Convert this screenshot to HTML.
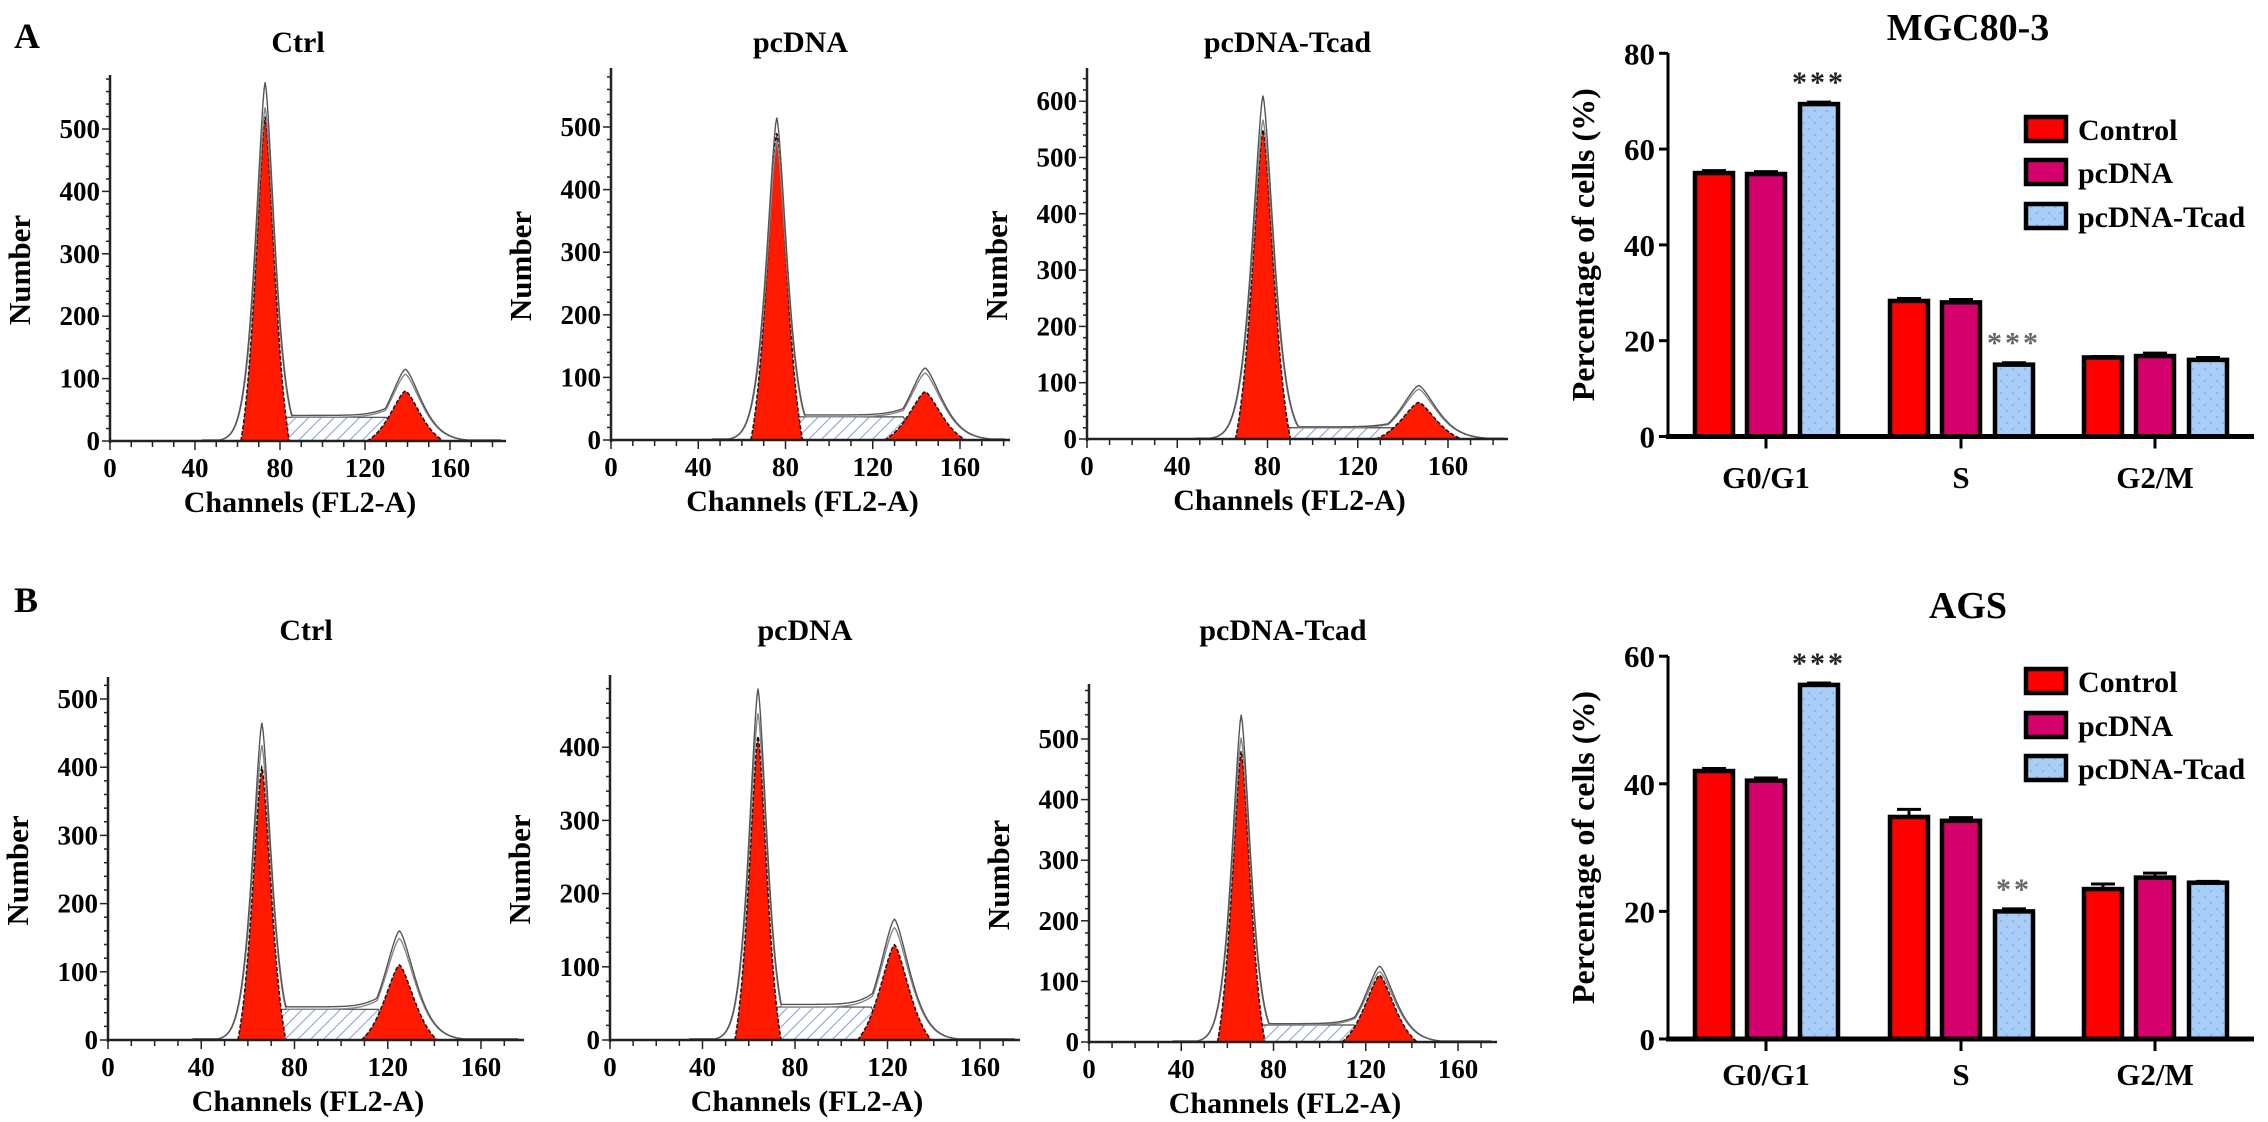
<!DOCTYPE html>
<html><head><meta charset="utf-8"><style>
html,body{margin:0;padding:0;background:#fff;}
svg{display:block;font-family:"Liberation Serif",serif;font-weight:bold;}
</style></head><body>
<svg id="fig" width="2268" height="1122" viewBox="0 0 2268 1122" xmlns="http://www.w3.org/2000/svg">
<defs>
<pattern id="hatch" patternUnits="userSpaceOnUse" width="9" height="9" patternTransform="rotate(45)">
<rect width="9" height="9" fill="#fff"/><line x1="0" y1="0" x2="0" y2="9" stroke="#7f9fd8" stroke-width="2"/></pattern>
<pattern id="dots" patternUnits="userSpaceOnUse" width="12" height="12">
<rect width="12" height="12" fill="#a8cdf7"/><circle cx="3" cy="3" r="1.3" fill="#8fb6ec"/><circle cx="9" cy="9" r="1.3" fill="#8fb6ec"/></pattern>
</defs>
<text x="14" y="48" font-size="36">A</text>
<text x="14" y="612" font-size="36">B</text>
<g id="hists"></g>
<g id="bars"></g>
</svg>
<script>
// ---- Histogram data (channel / counts) ----
const histTitles = ["Ctrl","pcDNA","pcDNA-Tcad","Ctrl","pcDNA","pcDNA-Tcad"];
const histG1Ch   = [73, 76, 78, 66, 64, 66];
const histG1Red  = [520, 490, 550, 400, 415, 480];
const histG1Out  = [575, 515, 610, 465, 480, 540];
const histSLevel = [38, 37, 20, 45, 45, 28];
const histSStart = [80, 84, 86, 73, 71, 73];
const histSEnd   = [130, 134, 136, 116, 113, 115];
const histG2Ch   = [139, 144, 147, 125, 123, 126];
const histG2Red  = [80, 77, 65, 110, 130, 110];
const histG2Out  = [115, 115, 95, 160, 165, 125];
const histYMax   = [500, 500, 600, 500, 400, 500];
const histXTicks = [0, 40, 80, 120, 160];
// layout (pixels)
const histLayout = [
 {x0:110,x160:450,base:441,k:0.624,top:75,end:506,ty:52},
 {x0:611,x160:960,base:440,k:0.626,top:68,end:1010,ty:52},
 {x0:1087,x160:1448,base:439,k:0.563,top:68,end:1508,ty:52},
 {x0:108,x160:481,base:1040,k:0.682,top:677,end:524,ty:640},
 {x0:610,x160:980,base:1040,k:0.732,top:675,end:1020,ty:640},
 {x0:1089,x160:1458,base:1042,k:0.606,top:684,end:1497,ty:640}
];
// ---- Bar chart data ----
const barCats = ["G0/G1","S","G2/M"];
const barSeries = ["Control","pcDNA","pcDNA-Tcad"];
const barTitles = ["MGC80-3","AGS"];
const barValsA = [[55,54.8,69.4],[28.3,28,15],[16.5,16.8,16]];
const barErrA  = [[0.5,0.5,0.4],[0.5,0.6,0.4],[0.2,0.6,0.5]];
const barValsB = [[42,40.5,55.5],[34.8,34.2,20],[23.5,25.3,24.5]];
const barErrB  = [[0.4,0.4,0.3],[1.2,0.5,0.4],[0.8,0.7,0.2]];
const barStarsA = [["","","***"],["","","***"],["","",""]];
const barStarsB = [["","","***"],["","","**"],["","",""]];
const barYTicksA = [0,20,40,60,80];
const barYTicksB = [0,20,40,60];

const NS="http://www.w3.org/2000/svg";
function mk(tag,attrs,parent,txt){const e=document.createElementNS(NS,tag);for(const k in attrs)e.setAttribute(k,attrs[k]);if(txt!==undefined)e.textContent=txt;parent.appendChild(e);return e;}
const peak=(x,m,s,h)=>h*Math.exp(-0.5*Math.pow(Math.abs(x-m)/s,1.5));

const hg=document.getElementById('hists');
histLayout.forEach((L,i)=>{
  const g=mk('g',{},hg);
  
  
  const xs=c=>L.x0+(L.x160-L.x0)*c/160;
  const ys=v=>L.base-v*L.k;
  const s1=histG1Ch[i]*0.06, s2=histG2Ch[i]*0.05;
  // S phase hatched region
  let d=`M${xs(histSStart[i]-6)},${ys(0)}`;
  for(let c=histSStart[i]-6;c<=histSEnd[i]+6;c+=0.5){
    let v=histSLevel[i];
    if(c<histSStart[i]) v=histSLevel[i]*(c-histSStart[i]+6)/6;
    if(c>histSEnd[i]) v=histSLevel[i]*(histSEnd[i]+6-c)/6;
    d+=` L${xs(c)},${ys(v)}`;
  }
  d+=` L${xs(histSEnd[i]+6)},${ys(0)}Z`;
  const sp=mk('path',{d:d,fill:'url(#hatch)',stroke:'#444','stroke-width':1.2},g);
  
  
  // G1 & G2 red peaks
  [[histG1Ch[i],s1,histG1Red[i],'g1-peak'],[histG2Ch[i],s2,histG2Red[i],'g2-peak']].forEach(p=>{
    const w=2.6*p[1];
    const et=peak(p[0]+w,p[0],p[1],1);
    let pd=`M${xs(p[0]-w)},${ys(0)}`;
    for(let c=p[0]-w;c<=p[0]+w;c+=0.25){
      const v=p[2]*Math.max(0,peak(c,p[0],p[1],1)-et)/(1-et);
      pd+=` L${xs(c)},${ys(v)}`;
    }
    pd+=` L${xs(p[0]+w)},${ys(0)}Z`;
    const e=mk('path',{d:pd,fill:'#ff1a00',stroke:'#111','stroke-width':1.5,'stroke-dasharray':'4 2'},g);
    
    
  });
  // outline envelopes
  [0,1].forEach(j=>{
    let od='';
    for(let c=0;c<=(L.end-L.x0)/(L.x160-L.x0)*160-2;c+=0.5){
      const f=j?1:0.93;
      let v=peak(c,histG1Ch[i],s1*0.95,histG1Out[i]*f)+peak(c,histG2Ch[i],s2,histG2Out[i]*f);
      let sv=0;
      if(c>histG1Ch[i]&&c<histG2Ch[i]) sv=histSLevel[i]*(1+j*0.08);
      v=Math.max(v,sv+peak(c,histG2Ch[i],s2,histG2Red[i])*0.3);
      if(c>histG2Ch[i]+2*s2&&c<histG2Ch[i]+30) v=Math.max(v,6*(histG2Ch[i]+30-c)/30);
      if(v<1.5&&c>histG1Ch[i]-30) v=Math.max(v,1.5);
      od+=(od?' L':'M')+xs(c)+','+ys(v);
    }
    const e=mk('path',{d:od,fill:'none',stroke:j?'#555':'#888','stroke-width':1.4},g);
    
    
  });
  // axes
  mk('line',{x1:L.x0,y1:L.top,x2:L.x0,y2:L.base+2,stroke:'#222','stroke-width':2.5},g);
  mk('line',{x1:L.x0,y1:L.base,x2:L.end,y2:L.base,stroke:'#222','stroke-width':2.5},g);
  const maxUnit=(L.base-L.top)/L.k;
  for(let v=0;v<=maxUnit;v+=20){
    const maj=v%100===0;
    mk('line',{x1:L.x0-(maj?8:4),y1:ys(v),x2:L.x0,y2:ys(v),stroke:'#222','stroke-width':1.5},g);
    if(maj&&v<=histYMax[i]){
      const t=mk('text',{x:L.x0-10,y:ys(v)+9,'font-size':27,'text-anchor':'end'},g,String(v));
      
      
    }
  }
  for(let c=0;xs(c)<=L.end;c+=10) mk('line',{x1:xs(c),y1:L.base,x2:xs(c),y2:L.base+(c%40===0?9:6),stroke:'#222','stroke-width':1.5},g);
  histXTicks.forEach(c=>{
    const t=mk('text',{x:xs(c),y:L.base+36,'font-size':27,'text-anchor':'middle'},g,String(c));
    
    
  });
  const cx=(L.x0+L.end)/2;
  const xl=mk('text',{x:cx-8,y:L.base+71,'font-size':30,'text-anchor':'middle'},g,'Channels (FL2-A)');
  
  
  const yl=mk('text',{x:0,y:0,'font-size':31,'text-anchor':'middle',transform:`translate(${L.x0-80},${(L.top+L.base)/2+12}) rotate(-90)`},g,'Number');
  
  
  const tt=mk('text',{x:cx-10,y:L.ty,'font-size':30,'text-anchor':'middle'},g,histTitles[i]);
  
  
});

// ---- Bar charts ----
const bg=document.getElementById('bars');
const barLayouts=[{ax:1668,base:436.5,k:4.79,top:53,ticks:barYTicksA,vals:barValsA,errs:barErrA,stars:barStarsA,ty:40,catY:488,legY:[129,172,216]},
                  {ax:1668,base:1039,k:6.38,top:656,ticks:barYTicksB,vals:barValsB,errs:barErrB,stars:barStarsB,ty:618,catY:1085,legY:[681,725,768]}];
const groupX=[1766,1961,2155], offX=[-52,0,53], bw=38;
const fills=['#ff0000','#d4006c','url(#dots)'];
barLayouts.forEach((B,bi)=>{
  const g=mk('g',{},bg);
  
  
  const ys=v=>B.base-v*B.k;
  barCats.forEach((cat,ci)=>{
    barSeries.forEach((s,si)=>{
      const v=B.vals[ci][si], e=B.errs[ci][si];
      const x=groupX[ci]+offX[si]-bw/2;
      const r=mk('rect',{x:x,y:ys(v),width:bw,height:B.base-ys(v),fill:fills[si],stroke:'#000','stroke-width':4.5},g);
      
      
      const cxb=x+bw/2;
      mk('line',{x1:cxb,y1:ys(v),x2:cxb,y2:ys(v+e),stroke:'#000','stroke-width':3},g);
      mk('line',{x1:cxb-12,y1:ys(v+e),x2:cxb+12,y2:ys(v+e),stroke:'#000','stroke-width':3},g);
      const st=B.stars[ci][si];
      if(st){
        const t=mk('text',{x:cxb,y:ys(v+e)-10,'font-size':30,'text-anchor':'middle',fill:ci===0?'#222':'#666','letter-spacing':3},g,st);
        
        
      }
    });
    mk('line',{x1:groupX[ci],y1:B.base,x2:groupX[ci],y2:B.base+12,stroke:'#000','stroke-width':3},g);
    const t=mk('text',{x:groupX[ci],y:B.catY,'font-size':31,'text-anchor':'middle'},g,cat);
    
    
  });
  mk('line',{x1:B.ax,y1:B.top,x2:B.ax,y2:B.base,stroke:'#000','stroke-width':3},g);
  mk('line',{x1:B.ax-2,y1:B.base,x2:2254,y2:B.base,stroke:'#000','stroke-width':5},g);
  B.ticks.forEach(v=>{
    mk('line',{x1:B.ax-9,y1:ys(v),x2:B.ax,y2:ys(v),stroke:'#000','stroke-width':3},g);
    const t=mk('text',{x:B.ax-13,y:ys(v)+11,'font-size':31,'text-anchor':'end'},g,String(v));
    
    
  });
  const yl=mk('text',{x:0,y:0,'font-size':32,'text-anchor':'middle',transform:`translate(${1594},${(B.top+B.base)/2}) rotate(-90)`},g,'Percentage of cells (%)');
  
  
  const tt=mk('text',{x:1968,y:B.ty,'font-size':38,'text-anchor':'middle'},g,barTitles[bi]);
  
  
  barSeries.forEach((s,si)=>{
    const sw=mk('rect',{x:2026,y:B.legY[si]-12,width:40,height:24,fill:fills[si],stroke:'#000','stroke-width':4.5},g);
    
    
    const t=mk('text',{x:2078,y:B.legY[si]+11,'font-size':30},g,s);
    
    
  });
});
</script>
</body></html>
